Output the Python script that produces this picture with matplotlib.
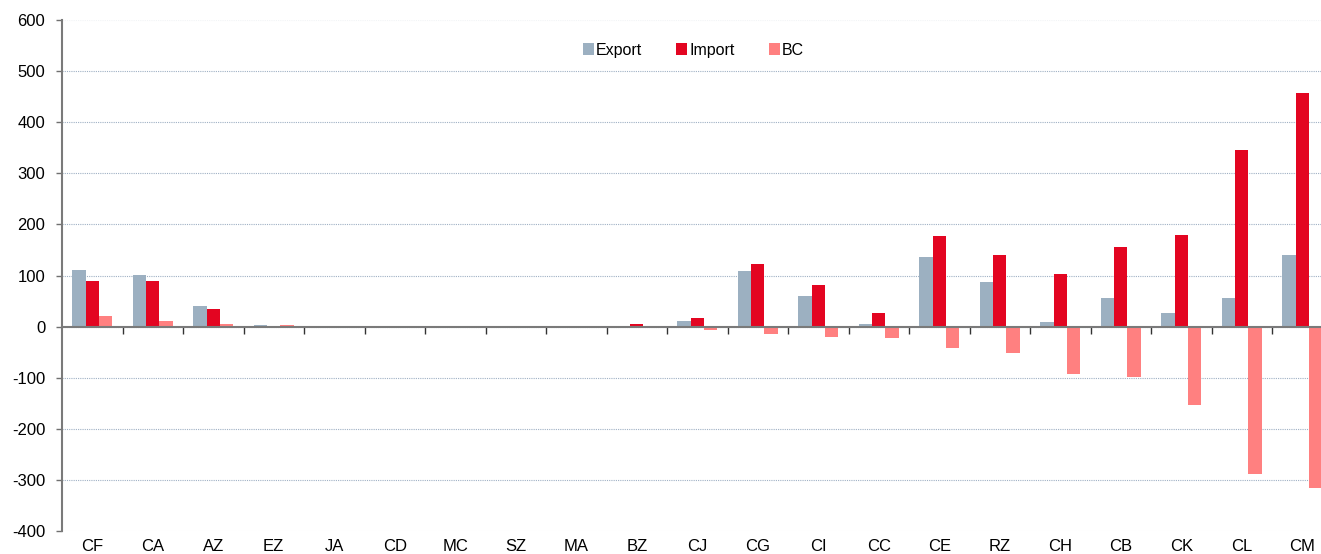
import numpy as np
import matplotlib
matplotlib.use("Agg")
from matplotlib import pyplot as plt
from matplotlib.ticker import FixedLocator

plt.rcParams['font.family'] = ['Liberation Sans', 'DejaVu Sans']
plt.rcParams['axes.unicode_minus'] = False

categories = ['CF', 'CA', 'AZ', 'EZ', 'JA', 'CD', 'MC', 'SZ', 'MA', 'BZ', 'CJ',
              'CG', 'CI', 'CC', 'CE', 'RZ', 'CH', 'CB', 'CK', 'CL', 'CM']
export_vals = [110, 101, 40, 3, 1, 0.5, 0.3, 0, 0.3, 2, 10,
               108, 60, 6, 136, 87, 9, 56, 26, 56, 141]
import_vals = [89, 90, 34, 0.7, 1.5, 0.7, 0.3, 0, 0.8, 5, 16,
               123, 81, 27, 177, 140, 102, 155, 179, 346, 457]
bc_vals = [21, 11, 6, 3, 0.5, 0.5, 0.7, 0, 0.5, -1, -6,
           -15, -21, -22, -41, -52, -92, -98, -153, -289, -316]
yticks = list(range(-400, 601, 100))

c_exp = '#9cb0c1'
c_imp = '#e30521'
c_bc = '#ff8080'

fig = plt.figure(figsize=(13.21, 5.54), dpi=100)
# axes runs a little past the right edge of the figure, as in the original
ax = fig.add_axes([62 / 1321, 23 / 554, 1270.5 / 1321, 511 / 554])

x = np.arange(len(categories))
w = 0.22
ax.bar(x - w, export_vals, w, color=c_exp, label='Export', zorder=3)
ax.bar(x, import_vals, w, color=c_imp, label='Import', zorder=3)
ax.bar(x + w, bc_vals, w, color=c_bc, label='BC', zorder=3)

ax.set_xlim(-0.5, len(categories) - 0.5)
ax.set_ylim(-400, 600)
ax.set_yticks(yticks)
ax.tick_params(axis='y', length=4, width=1, color='#707070', labelsize=12, pad=8)
ax.yaxis.grid(True, linestyle=(0, (1, 1)), color='#9fb0c4', linewidth=0.8, zorder=0)
gls = ax.get_ygridlines()
gls[0].set_color('#f2f4f6')
gls[-1].set_color('#f2f4f6')

for s in ['top', 'right']:
    ax.spines[s].set_visible(False)
ax.spines['left'].set_color('#7a7a7a')
ax.spines['left'].set_linewidth(1.5)
ax.spines['bottom'].set_position(('data', 0))
ax.spines['bottom'].set_color('#7a7a7a')
ax.spines['bottom'].set_linewidth(1.5)
ax.spines['bottom'].set_zorder(4)

# category boundary ticks on the zero line
ax.set_xticks([])
ax.xaxis.set_minor_locator(FixedLocator(np.arange(0.5, len(categories) - 0.5, 1)))
ax.tick_params(axis='x', which='minor', direction='out', length=5, width=1, color='#333333')

# labels at the bottom of the plot
sec = ax.secondary_xaxis('bottom')
sec.set_xticks(x, categories)
sec.tick_params(length=0, labelsize=12, pad=6)
sec.spines['bottom'].set_visible(False)

ax.legend(loc='center', bbox_to_anchor=(0.497, 0.941), ncol=3, frameon=False,
          fontsize=11.5, handlelength=0.7, handleheight=0.7, handletextpad=0.15,
          columnspacing=2.1)

fig.savefig('out.png', dpi=100)
